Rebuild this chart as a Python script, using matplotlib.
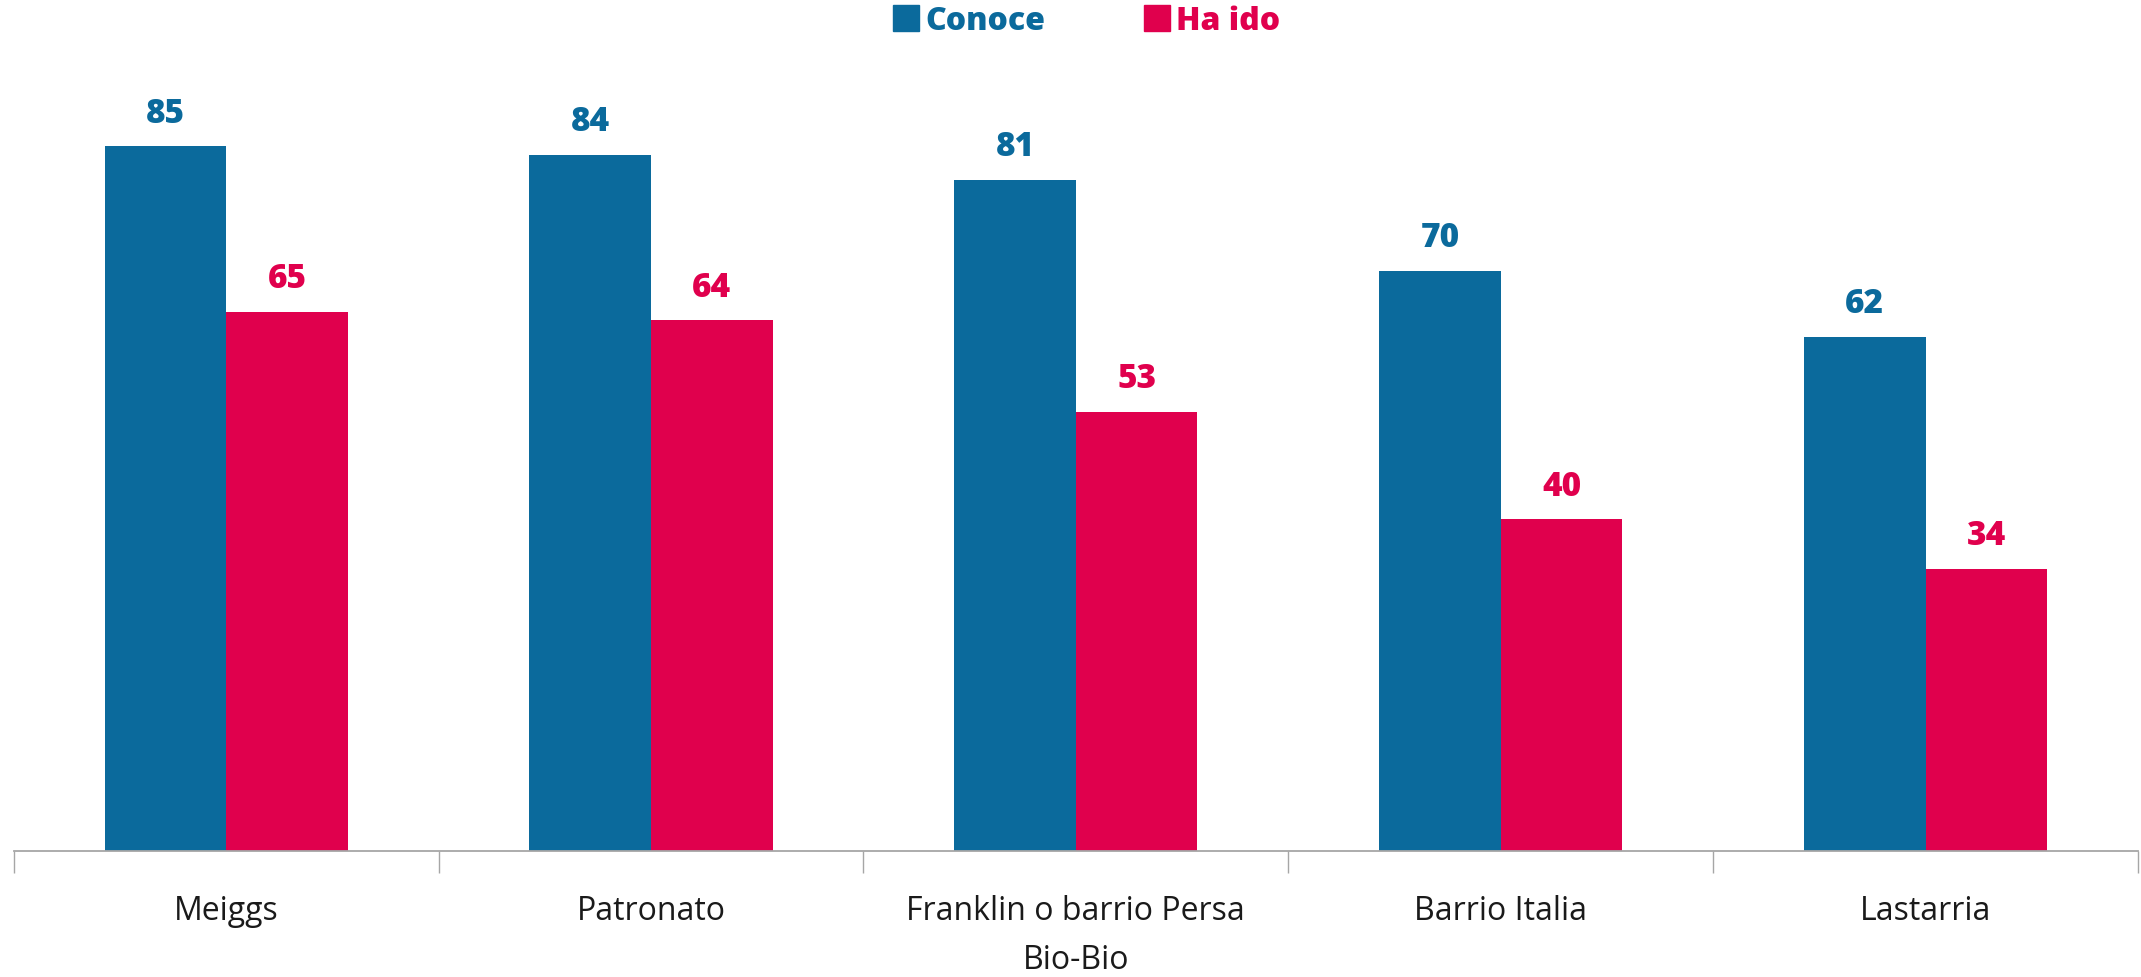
import matplotlib
matplotlib.use("Agg")
import matplotlib.pyplot as plt
from matplotlib.lines import Line2D
import numpy as np

categories = ["Meiggs", "Patronato", "Franklin o barrio Persa\nBio-Bio", "Barrio Italia", "Lastarria"]
conoce = [85, 84, 81, 70, 62]
ha_ido = [65, 64, 53, 40, 34]
series_names = ["Conoce", "Ha ido"]

BLUE = "#0B6A9C"
RED = "#E0004D"
FONT = ["Open Sans", "DejaVu Sans"]
plt.rcParams['font.family'] = FONT

fig = plt.figure(figsize=(21.41, 9.78), dpi=100)
ax = fig.add_axes([0.0064, 0.1288, 0.9922, 0.8477])

x = np.arange(len(categories))
w = 0.286
b1 = ax.bar(x - w / 2, conoce, width=w, color=BLUE)
b2 = ax.bar(x + w / 2, ha_ido, width=w, color=RED)

for bars, vals, col in ((b1, conoce, BLUE), (b2, ha_ido, RED)):
    for r, v in zip(bars, vals):
        ax.annotate(f"{v}", (r.get_x() + r.get_width() / 2, v), xytext=(0, 12),
                    textcoords="offset points", ha="center", va="bottom",
                    fontsize=24, fontweight="heavy", color=col)

ax.set_xlim(-0.5, len(categories) - 0.5)
ax.set_ylim(0, 100)
for s in ("top", "right", "left"):
    ax.spines[s].set_visible(False)
ax.spines["bottom"].set_color("#A6A6A6")
ax.spines["bottom"].set_linewidth(1.3)
ax.set_yticks([])
ax.set_xticks(x)
ax.set_xticklabels(categories, fontsize=23, color="#1a1a1a", linespacing=1.62, va="top")
ax.tick_params(axis="x", which="major", length=0, pad=31)
ax.set_xticks(np.arange(len(categories) + 1) - 0.5, minor=True)
ax.tick_params(axis="x", which="minor", length=16, color="#A6A6A6", width=1.0)

handles = [Line2D([0], [0], marker="s", linestyle="none", markersize=19, color=BLUE),
           Line2D([0], [0], marker="s", linestyle="none", markersize=19, color=RED)]
leg = fig.legend(handles, series_names, loc="center", bbox_to_anchor=(0.507, 0.977),
                 ncol=2, frameon=False, handletextpad=0.1, columnspacing=3.0,
                 prop={"size": 23, "weight": "heavy", "family": FONT}, handlelength=1.0)
for t, c in zip(leg.get_texts(), (BLUE, RED)):
    t.set_color(c)

fig.savefig("out.png", dpi=100)
